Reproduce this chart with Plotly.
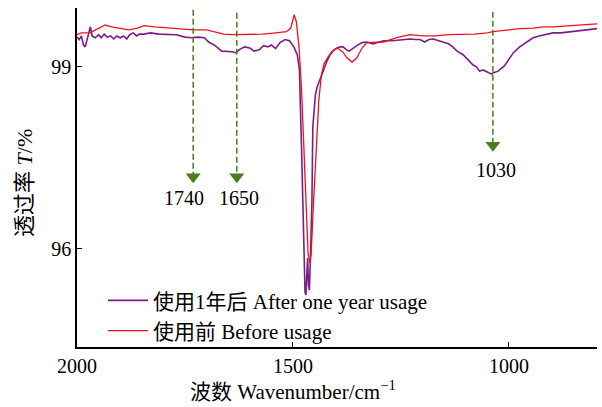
import plotly.graph_objects as go

# Before usage (red)
wn_before = [2000, 1990, 1970, 1950, 1935, 1920, 1900, 1880, 1860, 1845, 1820, 1790, 1760, 1730, 1700,
             1680, 1660, 1640, 1620, 1600, 1570, 1540, 1515, 1505, 1500, 1497, 1492, 1486, 1480, 1475,
             1470, 1465, 1461, 1458, 1452, 1446, 1440, 1434, 1428, 1420, 1410, 1398, 1385, 1375, 1363,
             1352, 1340, 1329, 1310, 1290, 1260, 1229, 1200, 1170, 1140, 1113, 1080, 1050, 1037, 1000,
             975, 944, 920, 898, 860, 830, 796]
t_before = [99.53, 99.56, 99.56, 99.64, 99.69, 99.66, 99.63, 99.61, 99.64, 99.68, 99.66, 99.64, 99.63, 99.61, 99.61,
            99.58, 99.54, 99.53, 99.53, 99.53, 99.54, 99.56, 99.58, 99.64, 99.81, 99.86, 99.74, 99.33, 98.62, 97.63,
            96.64, 95.93, 95.77, 95.90, 96.81, 97.63, 98.46, 98.87, 99.05, 99.15, 99.25, 99.31, 99.25, 99.15, 99.08,
            99.15, 99.31, 99.40, 99.40, 99.41, 99.48, 99.53, 99.51, 99.51, 99.53, 99.53, 99.54, 99.56, 99.58, 99.61,
            99.63, 99.64, 99.66, 99.66, 99.68, 99.69, 99.71]

# After one year usage (purple)
wn_after = [2000, 1995, 1990, 1985, 1981, 1976, 1972, 1969, 1965, 1958, 1950, 1944, 1937, 1930, 1922, 1915,
            1908, 1900, 1892, 1885, 1878, 1870, 1862, 1855, 1845, 1830, 1810, 1790, 1770, 1750, 1735, 1720,
            1705, 1695, 1680, 1665, 1650, 1640, 1632, 1625, 1612, 1600, 1590, 1578, 1568, 1558, 1550, 1540,
            1530, 1518, 1508, 1498, 1490, 1485, 1480, 1476, 1472, 1470, 1468, 1466, 1464, 1462, 1459, 1456,
            1454, 1448, 1444, 1438, 1431, 1422, 1414, 1405, 1398, 1390, 1384, 1376, 1370, 1363, 1352, 1340,
            1329, 1315, 1306, 1290, 1270, 1250, 1229, 1215, 1206, 1195, 1185, 1175, 1160, 1150, 1140, 1130,
            1120, 1106, 1095, 1083, 1075, 1068, 1060, 1050, 1040, 1037, 1025, 1010, 1000, 990, 975, 960,
            944, 930, 915, 898, 880, 860, 840, 820, 796]
t_after = [99.49, 99.45, 99.51, 99.36, 99.33, 99.48, 99.61, 99.66, 99.51, 99.48, 99.53, 99.48, 99.54, 99.49, 99.51, 99.46,
           99.51, 99.48, 99.51, 99.46, 99.53, 99.56, 99.51, 99.54, 99.54, 99.56, 99.54, 99.54, 99.53, 99.49, 99.48, 99.49,
           99.48, 99.41, 99.35, 99.26, 99.25, 99.25, 99.23, 99.28, 99.33, 99.31, 99.26, 99.28, 99.35, 99.33, 99.36, 99.30,
           99.40, 99.45, 99.43, 99.33, 99.20, 98.95, 97.63, 96.31, 95.29, 95.24, 95.74, 95.85, 95.41, 95.32, 95.98, 96.81,
           98.01, 98.54, 98.67, 98.79, 98.90, 99.08, 99.20, 99.28, 99.31, 99.33, 99.33, 99.28, 99.26, 99.30, 99.35, 99.40,
           99.41, 99.38, 99.40, 99.43, 99.43, 99.45, 99.46, 99.45, 99.45, 99.41, 99.45, 99.46, 99.43, 99.41, 99.38, 99.33,
           99.26, 99.20, 99.12, 99.03, 99.00, 98.93, 98.95, 98.92, 98.88, 98.90, 98.93, 99.02, 99.12, 99.23, 99.33, 99.41,
           99.48, 99.51, 99.53, 99.56, 99.56, 99.58, 99.59, 99.61, 99.63]

# Peak markers: line position, arrow tip, label
peak_labels = ["1740", "1650", "1030"]
peak_x = [1731, 1630, 1037]
peak_top = [99.94, 99.89, 99.91]
peak_tip = [97.06, 97.06, 97.58]
label_x = [1752, 1625, 1030]
label_y = [96.84, 96.84, 97.30]

x_ticks = [2000, 1500, 1000]
y_ticks = [96, 99]

FONT = "Liberation Serif, Times New Roman, Noto Sans CJK SC, serif"
GREEN = "#4a7d22"

fig = go.Figure()
fig.add_trace(go.Scatter(x=wn_after, y=t_after, mode="lines",
                         line=dict(color="#7b1d86", width=1.6),
                         name="使用1年后 After one year usage"))
fig.add_trace(go.Scatter(x=wn_before, y=t_before, mode="lines",
                         line=dict(color="#e8141c", width=1.3),
                         name="使用前 Before usage"))

for i in range(len(peak_x)):
    fig.add_shape(type="line", x0=peak_x[i], x1=peak_x[i], y0=peak_top[i], y1=peak_tip[i] + 0.15,
                  line=dict(color=GREEN, width=1.5, dash="6px,3px"), layer="above")
    fig.add_annotation(x=label_x[i], y=label_y[i], text=peak_labels[i], showarrow=False,
                       font=dict(family=FONT, size=20, color="black"))

# arrowheads
fig.add_trace(go.Scatter(x=peak_x, y=[t + 0.13 for t in peak_tip], mode="markers",
                         marker=dict(symbol="triangle-down", size=13, color=GREEN,
                                     line=dict(width=0)),
                         showlegend=False, hoverinfo="skip"))

# axis titles
fig.add_annotation(xref="paper", yref="paper", x=0.415, y=-0.127, xanchor="center", yanchor="middle",
                   text="波数 Wavenumber/cm<sup>−1</sup>", showarrow=False,
                   font=dict(family=FONT, size=21, color="black"))
fig.add_annotation(xref="paper", yref="paper", x=-0.1, y=0.484, xanchor="center", yanchor="middle",
                   text="透过率 <i>T</i>/%", textangle=-90, showarrow=False,
                   font=dict(family=FONT, size=22, color="black"))

fig.update_layout(
    width=602, height=407,
    margin=dict(l=77, r=5, t=8, b=60),
    paper_bgcolor="white", plot_bgcolor="white",
    font=dict(family=FONT, size=18, color="black"),
    showlegend=True,
    legend=dict(x=0.05, y=0.197, xanchor="left", yanchor="top",
                bgcolor="rgba(0,0,0,0)", font=dict(family=FONT, size=21),
                tracegroupgap=0, itemwidth=40),
)
fig.update_xaxes(range=[2000, 796], tickvals=x_ticks, ticktext=[str(v) for v in x_ticks],
                 ticks="inside", ticklen=5, tickcolor="black", tickwidth=1.2,
                 showline=True, linecolor="black", linewidth=1.5, mirror=False,
                 showgrid=False, zeroline=False, tickfont=dict(size=20))
fig.update_yaxes(range=[94.385, 99.97], tickvals=y_ticks, ticktext=[str(v) for v in y_ticks],
                 ticks="inside", ticklen=5, tickcolor="black", tickwidth=1.2,
                 showline=True, linecolor="black", linewidth=1.5, mirror=False,
                 showgrid=False, zeroline=False, tickfont=dict(size=20))

fig.write_html("out.html")
